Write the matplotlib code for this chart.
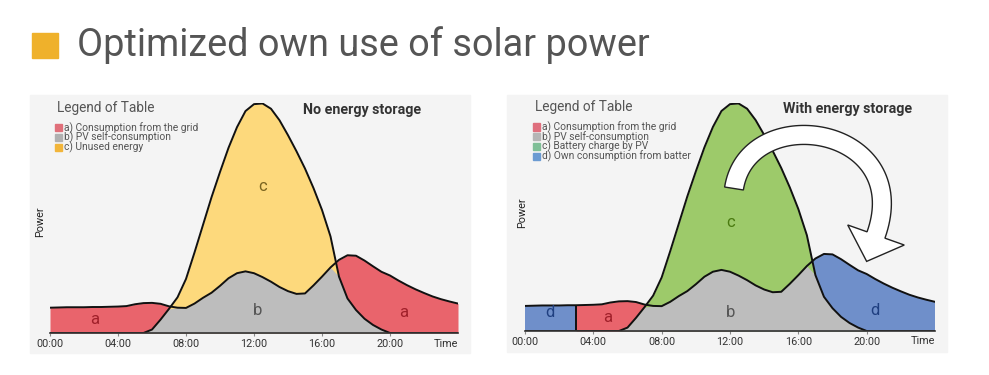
import numpy as np
import matplotlib
matplotlib.use("Agg")
import matplotlib.pyplot as plt
from matplotlib.patches import Rectangle, Polygon

plt.rcParams['font.family'] = ['Roboto', 'DejaVu Sans']

# ---------------- data ----------------
hours = [0, 0.5, 1, 1.5, 2, 2.5, 3, 3.5, 4, 4.5, 5, 5.5, 6, 6.5, 7, 7.5, 8, 8.5,
         9, 9.5, 10, 10.5, 11, 11.5, 12, 12.5, 13, 13.5, 14, 14.5, 15, 15.5, 16,
         16.5, 17, 17.5, 18, 18.5, 19, 19.5, 20, 20.5, 21, 21.5, 22, 22.5, 23,
         23.5, 24]
load = [11.0, 11.1, 11.2, 11.2, 11.2, 11.3, 11.3, 11.4, 11.5, 11.7, 12.5, 13.0,
        13.1, 12.7, 11.6, 11.0, 10.9, 12.8, 15.3, 17.5, 20.5, 23.8, 26.0, 26.8,
        26.0, 24.3, 22.3, 20.0, 18.2, 17.0, 17.2, 20.7, 24.5, 28.5, 31.8, 33.8,
        33.6, 31.5, 29.0, 26.6, 25.0, 22.8, 20.8, 19.0, 17.4, 15.9, 14.7, 13.7,
        12.8]
pv = [0, 0, 0, 0, 0, 0, 0, 0, 0, 0, 0, 0, 1.5, 5.8, 10.5, 15.5, 23.5, 35.0,
      47.0, 59.0, 70.0, 80.5, 89.5, 96.5, 99.5, 99.8, 97.5, 92.5, 86.0, 79.0,
      71.5, 63.0, 53.5, 42.0, 24.5, 15.0, 10.0, 6.2, 3.5, 1.5, 0, 0, 0, 0, 0,
      0, 0, 0, 0]
battery_switch_hour = 3

tick_hours = [0, 4, 8, 12, 16, 20]
tick_labels = ["00:00", "04:00", "08:00", "12:00", "16:00", "20:00"]

title = "Optimized own use of solar power"
left_title = "No energy storage"
right_title = "With energy storage"
left_legend = ["a) Consumption from the grid", "b) PV self-consumption",
               "c) Unused energy"]
right_legend = ["a) Consumption from the grid", "b) PV self-consumption",
                "c) Battery charge by PV", "d) Own consumption from batter"]

# ---------------- style ----------------
W, H = 989, 375
RED = "#e9646c"
GRAY = "#bdbdbd"
YELLOW = "#fdd97c"
GREEN = "#9dca6a"
BLUE = "#6f8fca"
PANEL = "#f4f4f4"

h = np.array(hours)
ld = np.array(load)
p = np.array(pv)
low = np.minimum(ld, p)

fig = plt.figure(figsize=(W / 100, H / 100), dpi=100)
fig.patch.set_facecolor("white")


def fx(x):
    return x / W


def fy(y):
    return 1 - y / H


# title
fig.patches.append(Rectangle((fx(32), fy(58)), 26 / W, 25 / H,
                             transform=fig.transFigure, color="#efb12b",
                             zorder=-1))
fig.text(fx(77), fy(45), title, fontsize=27.3, color="#555555", va="center",
         ha="left")

# panels
fig.patches.append(Rectangle((fx(30), fy(353)), 440 / W, 258 / H,
                             transform=fig.transFigure, color=PANEL, zorder=-2))
fig.patches.append(Rectangle((fx(507), fy(352)), 440 / W, 257 / H,
                             transform=fig.transFigure, color=PANEL, zorder=-2))

axL = fig.add_axes([fx(50), fy(333), 408 / W, 230 / H])
axR = fig.add_axes([fx(525), fy(331), 410 / W, 228 / H])


def style_axes(ax):
    ax.set_facecolor("none")
    ax.set_xlim(0, 24)
    ax.set_ylim(0, 100)
    for s in ["top", "right", "left"]:
        ax.spines[s].set_visible(False)
    ax.spines["bottom"].set_color("#333333")
    ax.spines["bottom"].set_linewidth(1.2)
    ax.set_yticks([])
    ax.set_xticks(tick_hours)
    ax.set_xticklabels(tick_labels)
    ax.tick_params(axis="x", length=2.5, width=0.8, color="#888888",
                   labelsize=7.8, labelcolor="#333333", pad=1.5)
    ax.text(23.3, -4.6, "Time", fontsize=7.8, color="#333333", ha="center",
            va="center", clip_on=False)


style_axes(axL)
style_axes(axR)

# left panel
axL.fill_between(h, 0, ld, color=RED, lw=0)
axL.fill_between(h, 0, p, color=YELLOW, lw=0)
axL.fill_between(h, 0, low, color=GRAY, lw=0)
axL.plot(h, ld, color="#111111", lw=1.4, solid_joinstyle="round")
axL.plot(h, p, color="#111111", lw=1.4, solid_joinstyle="round")

# right panel
red_mask = (h >= battery_switch_hour) & (h <= 12)
blue_mask = (h <= battery_switch_hour) | (h >= 12)
axR.fill_between(h, 0, ld, where=red_mask, color=RED, lw=0)
axR.fill_between(h, 0, ld, where=blue_mask, color=BLUE, lw=0)
axR.fill_between(h, 0, p, color=GREEN, lw=0)
axR.fill_between(h, 0, low, color=GRAY, lw=0)
axR.plot(h, ld, color="#111111", lw=1.4, solid_joinstyle="round")
axR.plot(h, p, color="#111111", lw=1.4, solid_joinstyle="round")
axR.vlines(battery_switch_hour, 0, ld[hours.index(battery_switch_hour)],
           color="#111111", lw=1.4)

# region letters
lf = dict(fontsize=12, ha="center", va="center")
axL.text(2.65, 5.7, "a", color="#a0202a", **lf)
axL.text(12.2, 9.6, "b", color="#555555", **lf)
axL.text(12.5, 63.5, "c", color="#7a6420", **lf)
axL.text(20.8, 9.1, "a", color="#a0202a", **lf)
axR.text(1.46, 7.9, "d", color="#1f3f80", **lf)
axR.text(4.86, 6.1, "a", color="#a0202a", **lf)
axR.text(12.06, 7.9, "b", color="#555555", **lf)
axR.text(12.06, 47.8, "c", color="#4a7a10", **lf)
axR.text(20.5, 9.2, "d", color="#1f3f80", **lf)

# curved arrow (decoration, built in pixel space of the figure)
P0 = np.array([734.0, 188.5])
P1 = np.array([748.0, 100.0])
P2 = np.array([915.0, 125.0])
P3 = np.array([876.0, 235.0])
t = np.linspace(0, 1, 80)[:, None]
curve = ((1 - t) ** 3) * P0 + 3 * ((1 - t) ** 2) * t * P1 \
    + 3 * (1 - t) * (t ** 2) * P2 + (t ** 3) * P3
deriv = 3 * ((1 - t) ** 2) * (P1 - P0) + 6 * (1 - t) * t * (P2 - P1) \
    + 3 * (t ** 2) * (P3 - P2)
tang = deriv / np.linalg.norm(deriv, axis=1, keepdims=True)
norm = np.column_stack([-tang[:, 1], tang[:, 0]])
half_w = 9.5
side1 = curve + half_w * norm
side2 = curve - half_w * norm
d_end = tang[-1]
n_end = norm[-1]
head_half = 30.0
head_len = 28.0
barb1 = P3 + head_half * n_end
barb2 = P3 - head_half * n_end
tip = P3 + head_len * d_end
poly_px = np.vstack([side1, barb1, tip, barb2, side2[::-1]])
poly_fig = np.column_stack([poly_px[:, 0] / W, 1 - poly_px[:, 1] / H])
fig.patches.append(Polygon(poly_fig, closed=True, transform=fig.transFigure,
                           facecolor="white", edgecolor="#222222", lw=1.0,
                           joinstyle="miter", zorder=5))

# panel titles
fig.text(fx(303), fy(110), left_title, fontsize=10.3, fontweight="bold",
         color="#333333", ha="left", va="center")
fig.text(fx(783), fy(109), right_title, fontsize=10.3, fontweight="bold",
         color="#333333", ha="left", va="center")

# y labels
fig.text(fx(40), fy(222), "Power", rotation=90, fontsize=7.8,
         color="#222222", ha="center", va="center")
fig.text(fx(522), fy(213), "Power", rotation=90, fontsize=7.8,
         color="#222222", ha="center", va="center")


# legends
def legend(x0, y_title, y_rows, labels, colors):
    fig.text(fx(x0), fy(y_title), "Legend of Table", fontsize=9.8,
             color="#555555", ha="left", va="center")
    for y, lab, c in zip(y_rows, labels, colors):
        fig.patches.append(Rectangle((fx(x0 - 2), fy(y + 3.5)), 7 / W, 7 / H,
                                     transform=fig.transFigure, color=c,
                                     zorder=3))
        fig.text(fx(x0 + 7), fy(y), lab, fontsize=7.4, color="#555555",
                 ha="left", va="center")


legend(57, 108, [127.8, 137.6, 147.4], left_legend,
       ["#e0707a", "#b0b0b0", "#f2b53a"])
legend(535, 107, [127.0, 136.8, 146.6, 156.4], right_legend,
       ["#df6f7d", "#b5b5b5", "#7fbf97", "#6b9bd2"])

fig.savefig("out.png", dpi=100)
